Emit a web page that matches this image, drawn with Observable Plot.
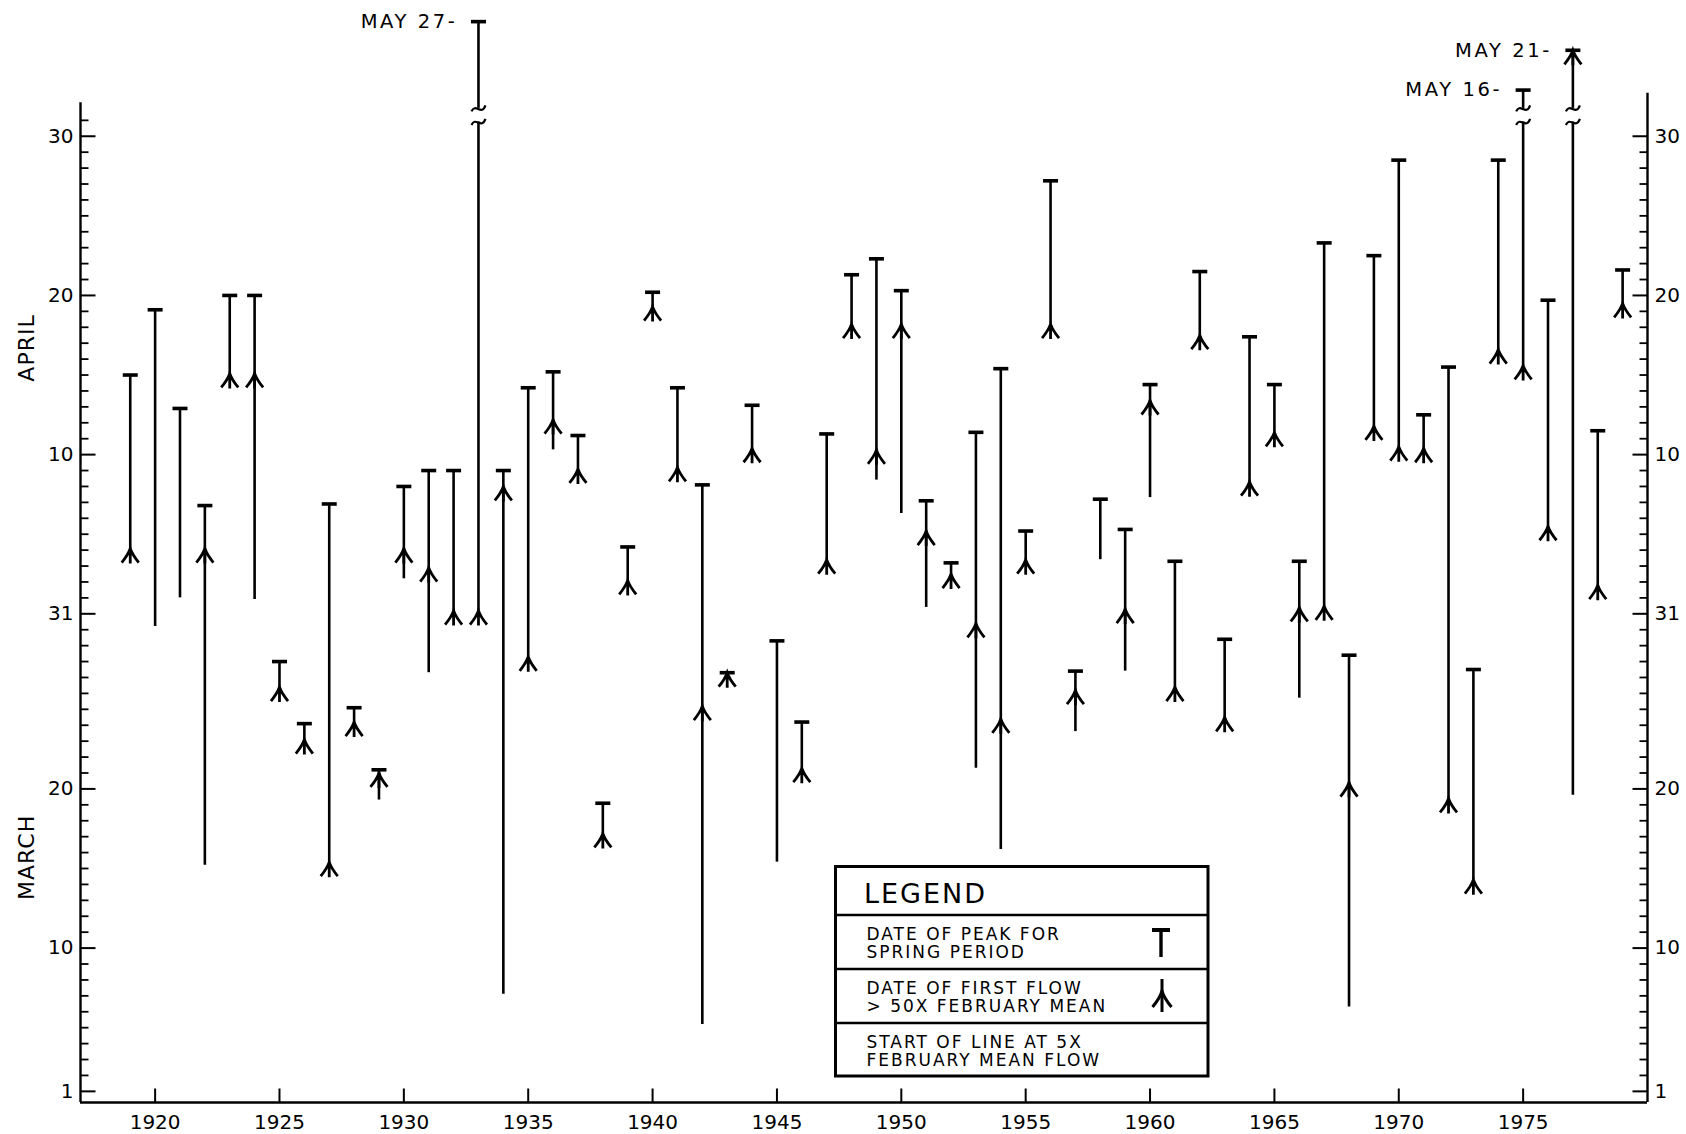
<!DOCTYPE html>
<html>
<head>
<meta charset="utf-8">
<script src="https://cdn.jsdelivr.net/npm/d3@7"></script>
<script src="https://cdn.jsdelivr.net/npm/@observablehq/plot@0.6"></script>
<style>
  html, body { margin: 0; padding: 0; background: #fff; }
  #chart { position: relative; width: 1686px; height: 1134px; }
</style>
</head>
<body>
<div id="chart"></div>
<script>
// Day numbering: March d -> d, April d -> 31 + d, May d -> 61 + d
const years = [1919,1920,1921,1922,1923,1924,1925,1926,1927,1928,
               1929,1930,1931,1932,1933,1934,1935,1936,1937,1938,
               1939,1940,1941,1942,1943,1944,1945,1946,1947,1948,
               1949,1950,1951,1952,1953,1954,1955,1956,1957,1958,
               1959,1960,1961,1962,1963,1964,1965,1966,1967,1968,
               1969,1970,1971,1972,1973,1974,1975,1976,1977,1978,
               1979];
// start of line: first flow at 5x February mean
const startDay = [35.1,30.2,32.0,15.2,46.1,31.9,26.4,23.1,15.4,24.2,
                  19.3,33.2,27.3,31.2,31.2,7.1,28.3,41.3,40.1,17.2,
                  33.1,50.3,40.2,5.2,27.3,41.4,15.4,21.3,34.4,49.2,
                  39.4,37.3,31.4,33.5,21.3,16.2,34.4,49.2,23.6,34.4,
                  27.4,38.3,26.4,48.5,24.5,39.3,42.4,25.7,31.5,6.3,
                  42.8,41.5,41.4,19.4,14.3,47.6,46.6,36.5,19.6,32.8,
                  50.5];
// date of first flow > 50x February mean (null = not reached)
const arrowDay = [35.1,null,null,35.1,46.1,46.1,26.4,23.1,15.4,24.2,
                  21.0,35.1,33.9,31.2,31.2,39.0,28.3,43.2,40.1,17.2,
                  33.1,50.3,40.2,25.2,27.3,41.4,null,21.3,34.4,49.2,
                  41.3,49.2,36.2,33.5,30.4,24.4,34.4,49.2,26.2,null,
                  31.3,44.4,26.4,48.5,24.5,39.3,42.4,31.4,31.5,20.4,
                  42.8,41.5,41.4,19.4,14.3,47.6,46.6,36.5,82,32.8,
                  50.5];
// date of peak for spring period
const peakDay = [46.0,50.1,43.9,37.8,51.0,51.0,28.0,24.1,37.9,25.1,
                 21.2,39.0,40.0,40.0,88,40.0,45.2,46.2,42.2,19.1,
                 35.2,51.2,45.2,39.1,27.3,44.1,29.3,24.2,42.3,52.3,
                 53.3,51.3,38.1,34.2,42.4,46.4,36.2,58.2,27.4,38.2,
                 36.3,45.4,34.3,52.5,29.4,48.4,45.4,34.3,54.3,28.4,
                 53.5,59.5,43.5,46.5,27.5,59.5,77,50.7,82,42.5,
                 52.6];
// off-scale (May) peaks, drawn above a broken axis
const brokenYears = [1933, 1975, 1977];
const brokenLabels = ["MAY 27-", "MAY 16-", "MAY 21-"];
const brokenPlotDay = [68.2, 63.9, 66.4];

const xTickYears = [1920,1925,1930,1935,1940,1945,1950,1955,1960,1965,1970,1975];
const yTickDays = [1, 10, 20, 31, 41, 51, 61];
const yTickLabels = ["1", "10", "20", "31", "10", "20", "30"];
const monthLabels = ["MARCH", "APRIL"];
const monthLabelDays = [15.7, 47.7];

const legendTitle = "LEGEND";
const legendRows = [["DATE OF PEAK FOR", "SPRING PERIOD"],
                    ["DATE OF FIRST FLOW", "> 50X FEBRUARY MEAN"],
                    ["START OF LINE AT 5X", "FEBRUARY MEAN FLOW"]];

// ---- scale / layout configuration ----
const X_MIN = 1917, X_MAX = 1980;
const Y_MIN = 0.3, Y_MAX = 68.9;
const SCALE_TOP = 62;          // last day on the regular scale
const BREAK_LO = 61.9, BREAK_HI = 62.75;
const LEFT_AXIS_TOP = 63.1, RIGHT_AXIS_TOP = 63.7;
const INK = "#000";
const FONT = "'DejaVu Sans', 'Liberation Sans', sans-serif";

const rows = years.map((year, i) => ({year, start: startDay[i], arrow: arrowDay[i], peak: peakDay[i]}));
const plotted = (v, year) => v > SCALE_TOP ? brokenPlotDay[brokenYears.indexOf(year)] : v;

const segments = [];
rows.forEach(r => {
  if (r.peak > SCALE_TOP) {
    segments.push({year: r.year, y1: r.start, y2: BREAK_LO});
    segments.push({year: r.year, y1: BREAK_HI, y2: plotted(r.peak, r.year)});
  } else {
    segments.push({year: r.year, y1: r.start, y2: r.peak});
  }
});
const brokenRows = brokenYears.map((year, i) => ({year, label: brokenLabels[i], y: brokenPlotDay[i]}));

// ---- custom symbols ----
const tBar = {draw(c) { c.moveTo(-7.5, 0); c.lineTo(7.5, 0); }};
const arrowSym = {draw(c) {
  c.moveTo(0, 0); c.lineTo(0, 15);
  c.moveTo(-8.5, 14); c.quadraticCurveTo(-2, 6, 0, 0); c.quadraticCurveTo(2, 6, 8.5, 14);
}};
const tilde = {draw(c) { c.moveTo(-7, 3); c.bezierCurveTo(-3, -6, 3, 8, 7, -3); }};
const hTick = len => ({draw(c) { c.moveTo(0, 0); c.lineTo(len, 0); }});
const vTick = len => ({draw(c) { c.moveTo(0, 0); c.lineTo(0, len); }});

const majorSet = new Set(yTickDays);
const leftMinor = d3.range(1, 63).filter(d => !majorSet.has(d));
const rightMinor = d3.range(1, 62).filter(d => !majorSet.has(d));
const labelByDay = new Map(yTickDays.map((d, i) => [d, yTickLabels[i]]));

const svg = Plot.plot({
  width: 1686, height: 1134,
  marginLeft: 80, marginRight: 39, marginTop: 10, marginBottom: 32,
  style: {fontFamily: FONT, fontSize: "20px", color: INK, background: "#fff"},
  x: {domain: [X_MIN, X_MAX]},
  y: {domain: [Y_MIN, Y_MAX]},
  marks: [
    // axis frame lines
    Plot.ruleX([X_MIN], {y1: () => Y_MIN, y2: () => LEFT_AXIS_TOP, stroke: INK, strokeWidth: 2.4}),
    Plot.ruleX([X_MAX], {y1: () => Y_MIN, y2: () => RIGHT_AXIS_TOP, stroke: INK, strokeWidth: 2.4}),
    Plot.ruleY([Y_MIN], {x1: () => X_MIN, x2: () => X_MAX, stroke: INK, strokeWidth: 2.4}),
    // inward ticks
    Plot.dot(yTickDays, {x: () => X_MIN, y: d => d, symbol: hTick(15), fill: "none", stroke: INK, strokeWidth: 2}),
    Plot.dot(leftMinor, {x: () => X_MIN, y: d => d, symbol: hTick(8), fill: "none", stroke: INK, strokeWidth: 1.8}),
    Plot.dot(yTickDays, {x: () => X_MAX, y: d => d, symbol: hTick(-15), fill: "none", stroke: INK, strokeWidth: 2}),
    Plot.dot(rightMinor, {x: () => X_MAX, y: d => d, symbol: hTick(-8), fill: "none", stroke: INK, strokeWidth: 1.8}),
    Plot.dot(xTickYears, {x: d => d, y: () => Y_MIN, symbol: vTick(-14), fill: "none", stroke: INK, strokeWidth: 2}),
    // axes labels
    Plot.axisX({ticks: xTickYears, tickSize: 0, tickPadding: 12, tickFormat: d => String(d), label: null, fontSize: 20}),
    Plot.axisY({anchor: "left", ticks: yTickDays, tickSize: 0, tickPadding: 7, tickFormat: d => labelByDay.get(d), label: null, fontSize: 20}),
    Plot.axisY({anchor: "right", ticks: yTickDays, tickSize: 0, tickPadding: 7, tickFormat: d => labelByDay.get(d), label: null, fontSize: 20}),
    Plot.text(monthLabels, {x: () => X_MIN, y: (d, i) => monthLabelDays[i], text: d => d, rotate: -90, dx: -54, fontSize: 22, fill: INK}),
    // data
    Plot.ruleX(segments, {x: "year", y1: "y1", y2: "y2", stroke: INK, strokeWidth: 2.6}),
    Plot.dot(segments.filter(s => s.y2 === BREAK_LO), {x: "year", y: "y2", symbol: tilde, fill: "none", stroke: INK, strokeWidth: 2.2}),
    Plot.dot(segments.filter(s => s.y1 === BREAK_HI), {x: "year", y: "y1", symbol: tilde, fill: "none", stroke: INK, strokeWidth: 2.2}),
    Plot.dot(rows, {x: "year", y: d => plotted(d.peak, d.year), symbol: tBar, fill: "none", stroke: INK, strokeWidth: 3.6}),
    Plot.dot(rows.filter(d => d.arrow != null), {x: "year", y: d => plotted(d.arrow, d.year), symbol: arrowSym, fill: "none", stroke: INK, strokeWidth: 2.8}),
    Plot.text(brokenRows, {x: "year", y: "y", text: "label", textAnchor: "end", dx: -21, fontSize: 19.5, fill: INK})
  ]
});
document.getElementById("chart").append(svg);

const sel = d3.select(svg);
sel.selectAll("text").filter(function() { return /^(APRIL|MARCH)$/.test(this.textContent); }).attr("letter-spacing", "1px");
sel.selectAll("text").filter(function() { return /^MAY/.test(this.textContent); }).attr("letter-spacing", "2.6px");

// ---- legend box (inside the plot frame) ----
const lg = sel.append("g").attr("font-family", FONT).attr("fill", INK).attr("text-anchor", "start");
const box = {left: 835.5, right: 1208, rows: [866.5, 915, 969, 1023, 1076]};
lg.append("rect").attr("x", box.left).attr("y", box.rows[0])
  .attr("width", box.right - box.left).attr("height", box.rows[4] - box.rows[0])
  .attr("fill", "#fff").attr("stroke", INK).attr("stroke-width", 3);
box.rows.slice(1, 4).forEach(y => lg.append("line")
  .attr("x1", box.left).attr("x2", box.right).attr("y1", y).attr("y2", y)
  .attr("stroke", INK).attr("stroke-width", 2.6));
lg.append("text").attr("x", 864).attr("y", 903).attr("font-size", 27)
  .attr("text-anchor", "start").attr("letter-spacing", "2px").text(legendTitle);
legendRows.forEach((lines, i) => {
  lines.forEach((t, j) => {
    lg.append("text").attr("x", 866.5).attr("y", box.rows[i + 1] + 25 + j * 17.5)
      .attr("text-anchor", "start")
      .attr("font-size", 17).attr("letter-spacing", "2px").text(t);
  });
});
// legend symbols
const sym = lg.append("g").attr("stroke", INK).attr("fill", "none");
sym.append("line").attr("x1", 1152).attr("x2", 1170).attr("y1", 930).attr("y2", 930).attr("stroke-width", 4);
sym.append("line").attr("x1", 1161).attr("x2", 1161).attr("y1", 930).attr("y2", 957).attr("stroke-width", 3.4);
sym.append("line").attr("x1", 1162).attr("x2", 1162).attr("y1", 979).attr("y2", 1012).attr("stroke-width", 3);
sym.append("path").attr("d", "M1152.5,1007 Q1160,998 1162,991 Q1164,998 1171.5,1007").attr("stroke-width", 3);
</script>
</body>
</html>
